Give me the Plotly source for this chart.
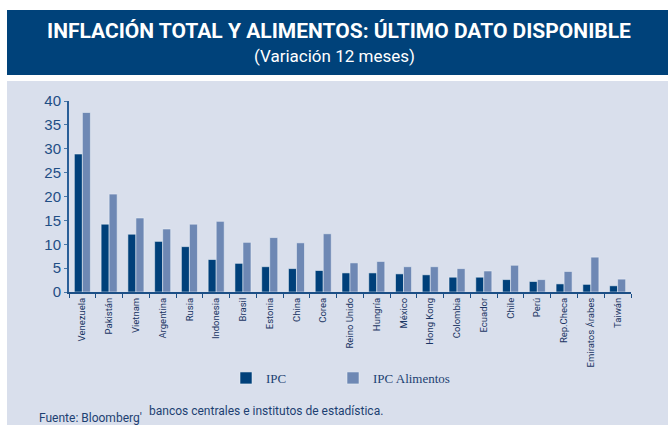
import plotly.graph_objects as go

categories = ["Venezuela", "Pakistán", "Vietnam", "Argentina", "Rusia", "Indonesia",
              "Brasil", "Estonia", "China", "Corea", "Reino Unido", "Hungría", "México",
              "Hong Kong", "Colombia", "Ecuador", "Chile", "Perú", "Rep.Checa",
              "Emiratos Árabes", "Taiwán"]
ipc = [28.9, 14.2, 12.1, 10.6, 9.5, 6.8, 6.0, 5.3, 4.9, 4.5, 4.0, 4.0, 3.8, 3.6, 3.1, 3.1,
       2.6, 2.2, 1.7, 1.6, 1.3]
ipc_alimentos = [37.6, 20.5, 15.5, 13.2, 14.2, 14.8, 10.4, 11.4, 10.3, 12.2, 6.1, 6.4, 5.3,
                 5.3, 4.9, 4.4, 5.6, 2.6, 4.3, 7.3, 2.7]
y_ticks = [0, 5, 10, 15, 20, 25, 30, 35, 40]

W, H = 668, 425
L, R, T, B = 69, 631, 101, 292


def xp(px):
    return (px - L) / (R - L)


def yp(py):
    return (B - py) / (B - T)


DARK = "#00407a"
LIGHT = "#6e88b4"
BG = "#d9dfec"
TXT = "#1d3f72"
SANS = "Roboto, Lato, sans-serif"

fig = go.Figure()
fig.add_trace(go.Bar(x=categories, y=ipc, name="IPC", marker_color=DARK, legend="legend",
                     marker_line=dict(color="rgba(235,240,248,0.55)", width=1)))
fig.add_trace(go.Bar(x=categories, y=ipc_alimentos, name="IPC Alimentos", marker_color=LIGHT,
                     legend="legend2",
                     marker_line=dict(color="rgba(235,240,248,0.55)", width=1)))

shapes = [
    dict(type="rect", xref="paper", yref="paper", x0=xp(7), x1=xp(668), y0=yp(425), y1=yp(81),
         fillcolor=BG, line_width=0, layer="below"),
    dict(type="rect", xref="paper", yref="paper", x0=xp(7), x1=xp(668), y0=yp(75), y1=yp(10),
         fillcolor="#00427a", line_width=0, layer="below"),
]

annotations = [
    dict(text="<b>INFLACIÓN TOTAL Y ALIMENTOS: ÚLTIMO DATO DISPONIBLE</b>", xref="paper",
         yref="paper", x=xp(339), y=yp(31), xanchor="center", yanchor="middle", showarrow=False,
         font=dict(family=SANS, size=21, color="white")),
    dict(text="(Variación 12 meses)", xref="paper", yref="paper", x=xp(334), y=yp(56),
         xanchor="center", yanchor="middle", showarrow=False,
         font=dict(family=SANS, size=17, color="white")),
    dict(text="Fuente: Bloomberg'", xref="paper", yref="paper", x=xp(37), y=yp(418),
         xanchor="left", yanchor="middle", showarrow=False,
         font=dict(family=SANS, size=12, color=TXT)),
    dict(text="bancos centrales e institutos de estadística.", xref="paper", yref="paper",
         x=xp(147), y=yp(411), xanchor="left", yanchor="middle", showarrow=False,
         font=dict(family=SANS, size=12, color=TXT)),
]

legend_font = dict(family="Liberation Serif, serif", size=13, color=TXT)

fig.update_layout(
    width=W, height=H,
    margin=dict(l=L, r=W - R, t=T, b=H - B, autoexpand=False),
    paper_bgcolor="white",
    plot_bgcolor="rgba(0,0,0,0)",
    barmode="group", bargap=0.4, bargroupgap=0,
    shapes=shapes, annotations=annotations,
    showlegend=True,
    legend=dict(orientation="h", x=xp(226), y=yp(378), xanchor="left", yanchor="middle",
                font=legend_font, bgcolor="rgba(0,0,0,0)"),
    legend2=dict(orientation="h", x=xp(333), y=yp(378), xanchor="left", yanchor="middle",
                 font=legend_font, bgcolor="rgba(0,0,0,0)"),
    xaxis=dict(range=[-0.5, len(categories) - 0.5], tickangle=-90, showline=True,
               linecolor="#1c4f86", linewidth=2, ticks="outside", tickson="boundaries",
               ticklen=4, tickcolor="#1c4f86", tickwidth=1, showgrid=False,
               tickfont=dict(family=SANS, size=9.5, color="#1a3563")),
    yaxis=dict(range=[0, 40], tickvals=y_ticks, showline=True, linecolor="#2a5f98",
               linewidth=2, ticks="outside", ticklen=3, tickcolor="#4a78a8", tickwidth=1,
               showgrid=False, zeroline=False,
               tickfont=dict(family="Liberation Sans, sans-serif", size=15, color="#1f4e85")),
)

fig.write_html("out.html", config={"displayModeBar": False},
               post_script="document.body.style.margin='0px';document.body.style.overflow='hidden';")
